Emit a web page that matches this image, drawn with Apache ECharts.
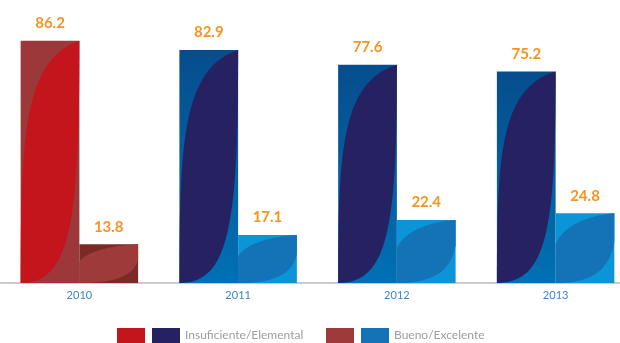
<!DOCTYPE html>
<html>
<head>
<meta charset="utf-8">
<script src="https://cdn.jsdelivr.net/npm/echarts@6/dist/echarts.min.js"></script>
<style>
html,body{margin:0;padding:0;background:#fff;}
#c{width:620px;height:343px;}
</style>
</head>
<body>
<div id="c"></div>
<script>
const years = ['2010', '2011', '2012', '2013'];
const insuficiente = [86.2, 82.9, 77.6, 75.2];
const bueno = [13.8, 17.1, 22.4, 24.8];
const seriesNames = ['Insuficiente/Elemental', 'Bueno/Excelente'];
const legendOnlyNames = ['ins2010', 'bue2010'];

const C = {
  red: '#c4151c', redBase: '#9c383a',
  navy: '#262262',
  maroon: '#9e3a3a', maroonBase: '#7b2a27',
  blue: '#1472b6', blueBase: '#0b95d6'
};
const navyBase = {type:'linear', x:0, y:0, x2:0, y2:1, colorStops:[{offset:0,color:'#074d8c'},{offset:1,color:'#0070b4'}]};

const tallLens = 'path://M100,0 C5,8 0,40 0,100 C85,100 100,75 100,0 Z';
const shortLens = 'path://M100,0 C55,3 12,18 0,45 L0,100 C55,100 92,85 100,40 Z';

const chart = echarts.init(document.getElementById('c'), null, {renderer:'canvas'});

const labelOpt = {
  show: true, position: 'top', distance: 10,
  color: '#f7941d', fontFamily: 'Lato', fontWeight: 'bold', fontSize: 15,
  formatter: p => p.value.toFixed(1)
};

const legendBase = {
  top: 328, padding: 0, itemWidth: 28, itemHeight: 15, icon: 'rect', selectedMode: false,
  textStyle: {color: '#9d9d9d', fontFamily: 'Lato', fontSize: 12},
  formatter: n => legendOnlyNames.indexOf(n) >= 0 ? '' : n
};

chart.setOption({
  animation: false,
  grid: {left: 0, right: -15, top: 30, bottom: 60, outerBoundsMode: 'none', containLabel: false},
  legend: [
    Object.assign({}, legendBase, {left: 117, data: [legendOnlyNames[0]]}),
    Object.assign({}, legendBase, {left: 152, data: [seriesNames[0]]}),
    Object.assign({}, legendBase, {left: 326, data: [legendOnlyNames[1]]}),
    Object.assign({}, legendBase, {left: 361, data: [seriesNames[1]]})
  ],
  xAxis: {
    type: 'category', data: years,
    axisLine: {lineStyle: {color: '#b8b8b8', width: 1.5}},
    axisTick: {show: false},
    axisLabel: {color: '#3a86c8', fontFamily: 'Lato', fontSize: 11, margin: 7}
  },
  yAxis: {type: 'value', min: 0, max: 90, show: false, splitLine: {show: false}},
  series: [
    {
      name: seriesNames[0], type: 'bar', barGap: 0, barCategoryGap: '26%',
      itemStyle: {color: C.navy},
      label: labelOpt,
      data: insuficiente.map((v, i) => ({value: v, itemStyle: {color: i === 0 ? C.redBase : navyBase}}))
    },
    {
      name: seriesNames[1], type: 'bar', barGap: 0, barCategoryGap: '26%',
      itemStyle: {color: C.blue},
      label: labelOpt,
      data: bueno.map((v, i) => ({value: v, itemStyle: {color: i === 0 ? C.maroonBase : C.blueBase}}))
    },
    {
      name: 'lens1', type: 'pictorialBar', barGap: 0, barCategoryGap: '26%', z: 3,
      symbol: tallLens, symbolSize: ['100%', '100%'], symbolPosition: 'start',
      silent: true,
      data: insuficiente.map((v, i) => ({value: v, itemStyle: {color: i === 0 ? C.red : C.navy}}))
    },
    {
      name: 'lens2', type: 'pictorialBar', barGap: 0, barCategoryGap: '26%', z: 3,
      symbol: shortLens, symbolSize: ['100%', '100%'], symbolPosition: 'start',
      silent: true,
      data: bueno.map((v, i) => ({value: v, itemStyle: {color: i === 0 ? C.maroon : C.blue}}))
    },
    {name: legendOnlyNames[0], type: 'scatter', data: [], itemStyle: {color: C.red, opacity: 1}},
    {name: legendOnlyNames[1], type: 'scatter', data: [], itemStyle: {color: C.maroon, opacity: 1}}
  ]
});
</script>
</body>
</html>
